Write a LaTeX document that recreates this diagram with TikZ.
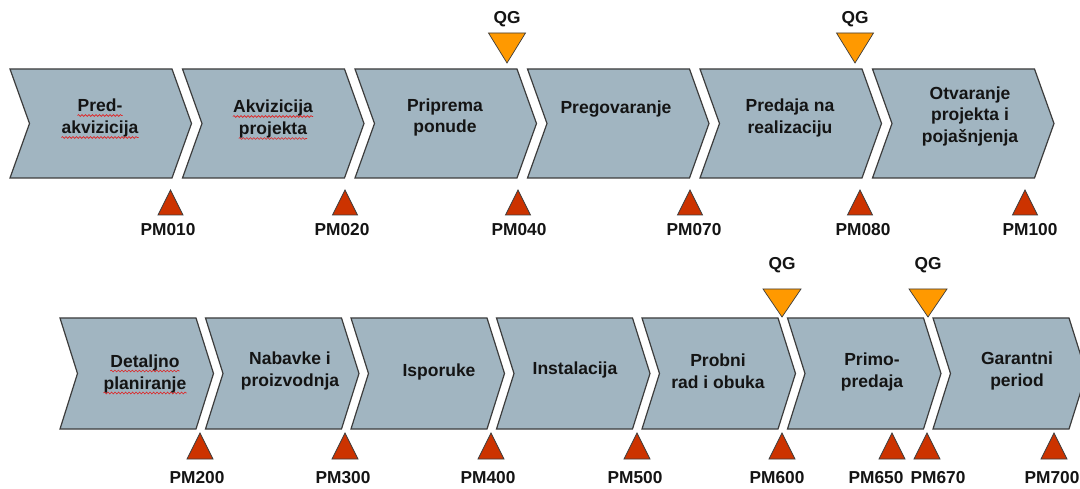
\documentclass[tikz,border=0pt]{standalone}
\usepackage{fontspec}
\setmainfont{Liberation Sans}
\usetikzlibrary{decorations.pathmorphing}
\definecolor{stagefill}{HTML}{A1B5C1}
\definecolor{edgegray}{HTML}{3C3C3C}
\definecolor{pmred}{HTML}{CC3300}
\definecolor{qgorange}{HTML}{FF9900}
\definecolor{txt}{HTML}{141414}
\definecolor{spellred}{HTML}{E02020}
% one chevron: left x, top y, bottom y, body width, point depth
\newcommand\stagearrow[5]{%
  \draw[stagebox] (#1,#2) -- ({#1+#4},#2) -- ({#1+#4+#5},{(#2+#3)/2})
    -- ({#1+#4},#3) -- (#1,#3) -- ({#1+#5},{(#2+#3)/2}) -- cycle;}
% red wavy underline below a one-word node
\newcommand\spellmark[1]{%
  \draw[squiggle] ([yshift=-4pt]#1.base west) -- ([yshift=-4pt]#1.base east);}
\tikzset{
  stagebox/.style={fill=stagefill, draw=edgegray, line width=1.2pt, line join=miter},
  pmtri/.style={fill=pmred, draw=edgegray, line width=0.7pt, line join=miter},
  qgtri/.style={fill=qgorange, draw=edgegray, line width=0.7pt, line join=miter},
  stagetext/.style={font=\fontsize{17.5}{21.5}\selectfont\bfseries, text=txt, align=center, inner sep=0pt},
  stageword/.style={font=\fontsize{17.5}{21.5}\selectfont\bfseries, text=txt, inner sep=0pt, anchor=base},
  tag/.style={font=\fontsize{17.3}{20}\selectfont\bfseries, text=txt, inner sep=0pt},
  squiggle/.style={draw=spellred, line width=0.6pt,
    decorate, decoration={snake, amplitude=0.9pt, segment length=3.5pt}}
}
\begin{document}
\begin{tikzpicture}[x=1pt, y=-1pt]
\useasboundingbox (0,0) rectangle (1080,489);
\fill[white] (0,0) rectangle (1080,489);

% ---------- upper row ----------
\foreach \x in {10,182.5,355,527.5,700,872.5} {\stagearrow{\x}{69}{178}{162}{19.5}}

\node[stageword] (u1a) at (100,111.5) {Pred-};
\node[stageword] (u1b) at (100,133.5) {akvizicija};
\node[stageword] (u2a) at (273,112.5) {Akvizicija};
\node[stageword] (u2b) at (273,134.5) {projekta};
\foreach \n in {u1a,u1b,u2a,u2b} {\spellmark{\n}}
\node[stagetext] (u3) at (445,117.5) {Priprema\\ponude};
\node[stagetext] (u4) at (616,109) {Pregovaranje};
\node[stagetext] (u5) at (790,118) {Predaja na\\realizaciju};
\node[stagetext] (u6) at (970,116) {Otvaranje\\projekta i\\pojašnjenja};

% project milestones, upper row
\foreach \x/\lx/\name in {170.5/168/PM010, 345/342/PM020, 518/519/PM040,
                          690/694/PM070, 860/863/PM080, 1025/1030/PM100} {
  \draw[pmtri] ({\x-12.5},215) -- (\x,190) -- ({\x+12.5},215) -- cycle;
  \node[tag] (m\name) at (\lx,230) {\name};
}

% quality gates, upper row
\foreach \x/\i in {507/1, 855/2} {
  \draw[qgtri] ({\x-18.5},33) -- ({\x+18.5},33) -- (\x,63) -- cycle;
  \node[tag] (qu\i) at (\x,19) {QG};
}

% ---------- lower row ----------
\foreach \x in {60,205.5,351,496.5,642,787.5,933} {\stagearrow{\x}{318}{429}{136}{17.5}}

\node[stageword] (l1a) at (145,367) {Detaljno};
\node[stageword] (l1b) at (145,389) {planiranje};
\foreach \n in {l1a,l1b} {\spellmark{\n}}
\node[stagetext] (l2) at (290,371) {Nabavke i\\proizvodnja};
\node[stagetext] (l3) at (439,372) {Isporuke};
\node[stagetext] (l4) at (575,370) {Instalacija};
\node[stagetext] (l5) at (718,371) {Probni\\rad i obuka};
\node[stagetext] (l6) at (872,372) {Primo-\\predaja};
\node[stagetext] (l7) at (1017,371) {Garantni\\period};

% project milestones, lower row
\foreach \x/\lx/\name in {200/197/PM200, 345/343/PM300, 491/488/PM400, 637/635/PM500,
                          782/777/PM600, 892/876/PM650, 927/938/PM670, 1054/1052/PM700} {
  \draw[pmtri] ({\x-13},459) -- (\x,433) -- ({\x+13},459) -- cycle;
  \node[tag] (m\name) at (\lx,478) {\name};
}

% quality gates, lower row
\foreach \x/\i in {782/1, 928/2} {
  \draw[qgtri] ({\x-19},289) -- ({\x+19},289) -- (\x,317) -- cycle;
  \node[tag] (ql\i) at (\x,265) {QG};
}
\end{tikzpicture}
\end{document}
